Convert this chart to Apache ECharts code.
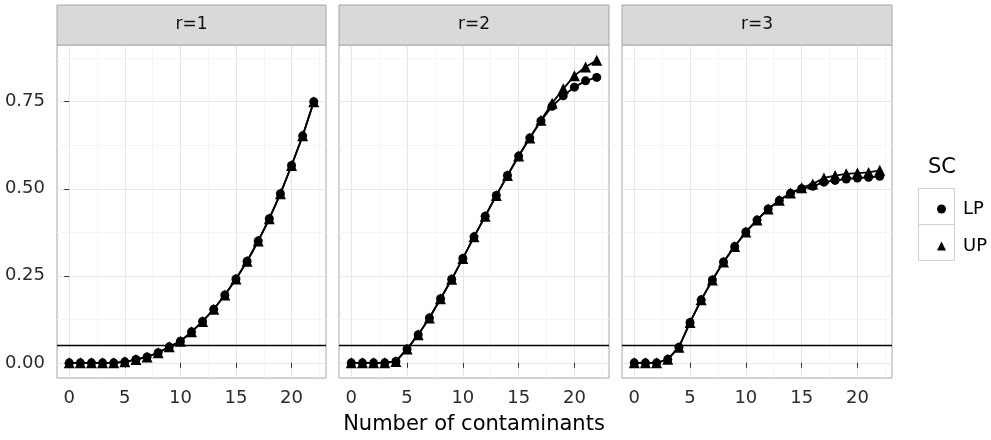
<!DOCTYPE html>
<html>
<head>
<meta charset="utf-8">
<script src="https://cdn.jsdelivr.net/npm/echarts@6/dist/echarts.min.js"></script>
<style>
html, body { margin: 0; padding: 0; background: #fff; }
#chart { width: 991px; height: 440px; }
</style>
</head>
<body>
<div id="chart"></div>
<script>
// number of contaminants, 0..22
const contaminants = [0, 1, 2, 3, 4, 5, 6, 7, 8, 9, 10, 11, 12, 13, 14, 15, 16, 17, 18, 19, 20, 21, 22];
const panelNames = ['r=1', 'r=2', 'r=3'];
const seriesNames = ['LP', 'UP'];
const xTicks = [0, 5, 10, 15, 20];
const xMinor = [2.5, 7.5, 12.5, 17.5, 22.5];
const yTicks = [0, 0.25, 0.5, 0.75];
const yMinor = [0.125, 0.375, 0.625, 0.875];
const cutoff = 0.05;

const r1LP = [0, 0, 0, 0, 0, 0.003, 0.0095, 0.017, 0.029, 0.046, 0.062, 0.089, 0.119, 0.154, 0.195, 0.241, 0.292, 0.35, 0.414, 0.486, 0.567, 0.652, 0.75];
const r1UP = [0, 0, 0, 0, 0, 0.003, 0.0095, 0.017, 0.029, 0.046, 0.062, 0.089, 0.119, 0.154, 0.195, 0.241, 0.292, 0.35, 0.414, 0.486, 0.567, 0.652, 0.75];
const r2LP = [0, 0, 0, 0, 0.004, 0.04, 0.081, 0.129, 0.184, 0.24, 0.3, 0.362, 0.421, 0.481, 0.538, 0.594, 0.646, 0.695, 0.737, 0.767, 0.792, 0.81, 0.82];
const r2UP = [0, 0, 0, 0, 0.004, 0.04, 0.081, 0.129, 0.184, 0.24, 0.3, 0.362, 0.421, 0.481, 0.538, 0.594, 0.646, 0.697, 0.746, 0.787, 0.825, 0.85, 0.869];
const r3LP = [0, 0, 0, 0.01, 0.045, 0.116, 0.181, 0.238, 0.29, 0.334, 0.376, 0.41, 0.442, 0.466, 0.487, 0.5, 0.507, 0.519, 0.524, 0.528, 0.531, 0.533, 0.536];
const r3UP = [0, 0, 0, 0.01, 0.045, 0.116, 0.181, 0.238, 0.29, 0.334, 0.376, 0.41, 0.442, 0.467, 0.488, 0.503, 0.514, 0.531, 0.538, 0.543, 0.545, 0.547, 0.553];

const panelData = [[r1LP, r1UP], [r2LP, r2UP], [r3LP, r3UP]];

const FONT = 'DejaVu Sans';
const panels = [
  { left: 57, width: 269 },
  { left: 339, width: 270 },
  { left: 622, width: 270 }
];
const TOP = 45, HEIGHT = 333;
const xMin = -1.1, xMax = 23.1, yMin = -0.0435, yMax = 0.913;

const grids = [], xAxes = [], yAxes = [], series = [], graphics = [];

panels.forEach((p, i) => {
  grids.push({
    left: p.left, top: TOP, width: p.width, height: HEIGHT,
    show: true, backgroundColor: '#fff', borderColor: '#a6a6a6', borderWidth: 1
  });
  // major x axis
  xAxes.push({
    type: 'value', gridIndex: i, min: xMin, max: xMax,
    axisLine: { show: false },
    axisTick: { show: true, customValues: xTicks, length: 5, lineStyle: { color: '#333' } },
    axisLabel: { customValues: xTicks, margin: 11, fontFamily: FONT, fontSize: 18, color: '#2b2b2b' },
    splitLine: { show: true, lineStyle: { color: '#e6e6e6', width: 1 } },
    name: i === 1 ? 'Number of contaminants' : '',
    nameLocation: 'middle', nameGap: 36,
    nameTextStyle: { fontFamily: FONT, fontSize: 21, color: '#000' }
  });
  // minor x axis (grid lines only)
  xAxes.push({
    type: 'value', gridIndex: i, min: xMin, max: xMax,
    axisLine: { show: false },
    axisTick: { show: false, customValues: xMinor },
    axisLabel: { show: false, customValues: xMinor },
    splitLine: { show: true, lineStyle: { color: '#f5f5f5', width: 1 } }
  });
  yAxes.push({
    type: 'value', gridIndex: i, min: yMin, max: yMax,
    axisLine: { show: false },
    axisTick: { show: i === 0, customValues: yTicks, length: 5, lineStyle: { color: '#333' } },
    axisLabel: {
      show: i === 0, customValues: yTicks, margin: 12, fontFamily: FONT, fontSize: 18, color: '#2b2b2b',
      formatter: v => v.toFixed(2)
    },
    splitLine: { show: true, lineStyle: { color: '#e6e6e6', width: 1 } }
  });
  yAxes.push({
    type: 'value', gridIndex: i, min: yMin, max: yMax,
    axisLine: { show: false },
    axisTick: { show: false, customValues: yMinor },
    axisLabel: { show: false, customValues: yMinor },
    splitLine: { show: true, lineStyle: { color: '#f5f5f5', width: 1 } }
  });

  seriesNames.forEach((name, k) => {
    const s = {
      name: name,
      type: 'line',
      xAxisIndex: i * 2,
      yAxisIndex: i * 2,
      data: contaminants.map((c, j) => [c, panelData[i][k][j]]),
      symbol: k === 0 ? 'circle' : 'triangle',
      symbolSize: k === 0 ? 9 : 11,
      showSymbol: true,
      color: '#000',
      itemStyle: { color: '#000' },
      lineStyle: { color: '#000', width: 1.8 },
      z: 3,
      animation: false
    };
    if (k === 0) {
      s.markLine = {
        silent: true, symbol: 'none', label: { show: false },
        lineStyle: { color: '#000', width: 1.3, type: 'solid' },
        data: [{ yAxis: cutoff }]
      };
    }
    series.push(s);
  });

  // facet strip
  graphics.push({
    type: 'rect', shape: { x: p.left, y: 5, width: p.width, height: 40 },
    style: { fill: '#d9d9d9', stroke: '#a6a6a6', lineWidth: 1 }, z: 10
  });
  graphics.push({
    type: 'text', x: p.left + p.width / 2, y: 25,
    style: { text: panelNames[i], fontFamily: FONT, fontSize: 17, fill: '#111', align: 'center', verticalAlign: 'middle' },
    z: 11
  });
});

// legend title and key boxes
graphics.push({
  type: 'text', x: 928, y: 168,
  style: { text: 'SC', fontFamily: FONT, fontSize: 21, fill: '#000', align: 'left', verticalAlign: 'middle' }
});
graphics.push({
  type: 'rect', shape: { x: 918.5, y: 188.5, width: 36, height: 36 },
  style: { fill: '#fff', stroke: '#d0d0d0', lineWidth: 1 }, z: 0
});
graphics.push({
  type: 'rect', shape: { x: 918.5, y: 224.5, width: 36, height: 36 },
  style: { fill: '#fff', stroke: '#d0d0d0', lineWidth: 1 }, z: 0
});

const chart = echarts.init(document.getElementById('chart'), null, { renderer: 'canvas' });
chart.setOption({
  animation: false,
  backgroundColor: '#fff',
  grid: grids,
  xAxis: xAxes,
  yAxis: yAxes,
  series: series,
  legend: {
    orient: 'vertical', left: 932, top: 195,
    itemWidth: 9, itemHeight: 9, itemGap: 19,
    data: [{ name: 'LP', icon: 'circle' }, { name: 'UP', icon: 'triangle' }],
    textStyle: { fontFamily: FONT, fontSize: 18, color: '#000', padding: [0, 0, 0, 12] },
    selectedMode: false
  },
  graphic: graphics
});
</script>
</body>
</html>
